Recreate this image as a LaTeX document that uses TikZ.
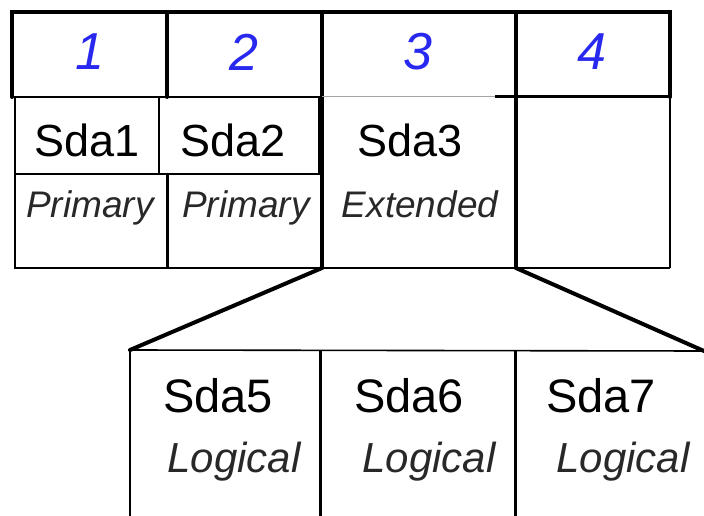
\documentclass[tikz,border=0pt]{standalone}
\usepackage{fontspec}
\setmainfont{Liberation Sans}
\definecolor{numblue}{RGB}{40,40,240}
\definecolor{txtgray}{RGB}{40,40,40}
\begin{document}
\begin{tikzpicture}[x=1pt,y=-1pt,
  thickline/.style={line width=4pt,line cap=round},
  midline/.style={line width=3pt},
  thinline/.style={line width=1.6pt},
  grayline/.style={line width=1pt,gray!70},
  num/.style={anchor=center,inner sep=0pt,text=numblue,font=\fontsize{52}{52}\selectfont\itshape},
  part/.style={anchor=base,inner sep=0pt,font=\fontsize{45}{45}\selectfont},
  kind/.style={anchor=base,inner sep=0pt,text=txtgray,font=\fontsize{37}{37}\selectfont\itshape},
  logi/.style={anchor=base,inner sep=0pt,text=txtgray,font=\fontsize{42}{42}\selectfont\itshape}]
\useasboundingbox (0,0) rectangle (704,516);
% coordinates
\coordinate (e3) at (322,268);
\coordinate (e4) at (516,268);
\coordinate (l0) at (130,350);
\coordinate (lr) at (704,351);
% top row
\draw[thickline] (12,97) -- (12,12) -- (670,12) -- (670,97);
\draw[thickline] (167,12) -- (167,97);
\draw[thickline] (322,12) -- (322,268);
\draw[thickline] (516,12) -- (516,268);
\draw[midline] (495,97) -- (670,97);
\draw[grayline] (322,97) -- (495,97);
% Sda1/Sda2 boxes
\draw[thinline] (15,97) rectangle (319,174);
\draw[thinline] (159,97) -- (159,174);
% lower parts of row
\draw[thinline] (15,174) -- (15,268) -- (670,268);
\draw[midline] (167,174) -- (167,268);
\draw[thinline] (670,97) -- (670,268);
% logical row
\draw[thinline] (130,516) -- (l0) -- (lr);
\draw[midline] (320,350) -- (320,516);
\draw[midline] (515,350) -- (515,516);
% connectors
\draw[thickline] (e3) -- (l0);
\draw[thickline] (e4) -- (lr);
% labels
\node[num] (n1) at (90,52) {1};
\node[num] (n2) at (244,52) {2};
\node[num] (n3) at (418,52) {3};
\node[num] (n4) at (592,52) {4};
\node[part] (s1) at (87,157) {Sda1};
\node[part] (s2) at (233,157) {Sda2};
\node[part] (s3) at (410,157) {Sda3};
\node[kind] (k1) at (90,217) {Primary};
\node[kind] (k2) at (246,217) {Primary};
\node[kind] (k3) at (420,217) {Extended};
\node[part,font=\fontsize{47}{47}\selectfont] (s5) at (218,412) {Sda5};
\node[part,font=\fontsize{47}{47}\selectfont] (s6) at (409,412) {Sda6};
\node[part,font=\fontsize{47}{47}\selectfont] (s7) at (601,412) {Sda7};
\node[logi] (g5) at (234,472) {Logical};
\node[logi] (g6) at (429,472) {Logical};
\node[logi] (g7) at (623,472) {Logical};
\end{tikzpicture}
\end{document}
